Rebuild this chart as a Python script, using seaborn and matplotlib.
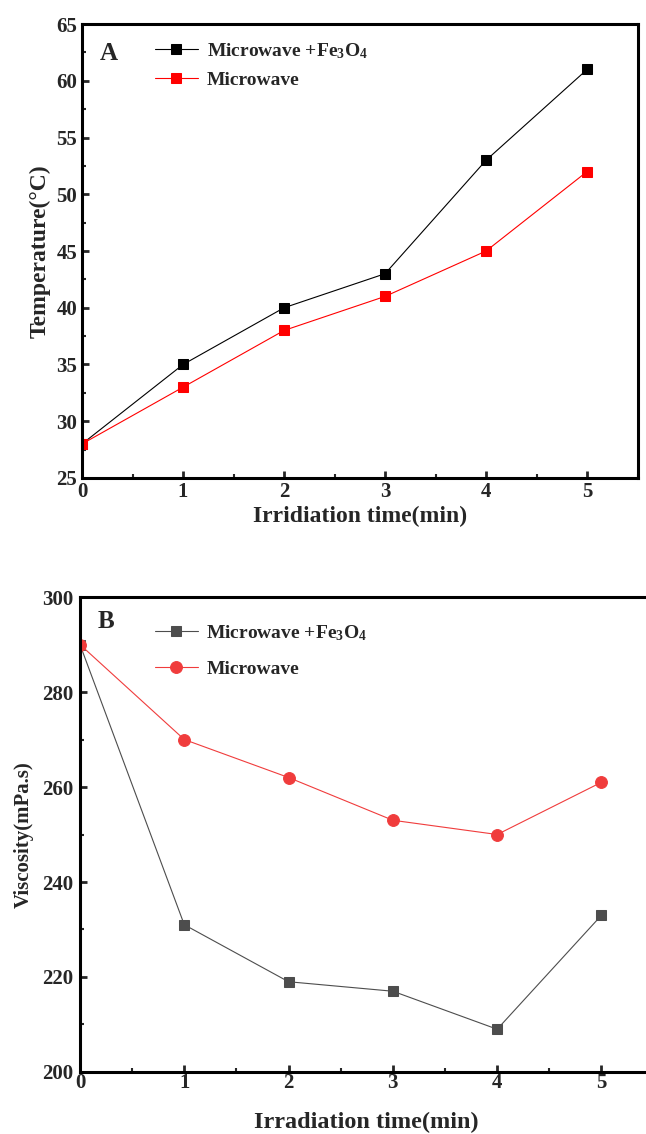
import matplotlib
matplotlib.use("Agg")
import matplotlib.pyplot as plt
import seaborn as sns
from matplotlib.ticker import MultipleLocator

# Irradiation time (min)
time_min = [0, 1, 2, 3, 4, 5]

# Panel A: temperature (°C)
temp_mw_fe3o4 = [28, 35, 40, 43, 53, 61]
temp_mw = [28, 33, 38, 41, 45, 52]

# Panel B: viscosity (mPa.s)
visc_mw_fe3o4 = [290, 231, 219, 217, 209, 233]
visc_mw = [290, 270, 262, 253, 250, 261]

label_fe = "Microwave +Fe$_{3}$O$_{4}$"
label_mw = "Microwave"

sns.set_style("white")
plt.rcParams["font.family"] = ["Liberation Serif"]
plt.rcParams["font.weight"] = "bold"
plt.rcParams["mathtext.fontset"] = "custom"
plt.rcParams["mathtext.rm"] = "Liberation Serif:bold"
plt.rcParams["mathtext.it"] = "Liberation Serif:bold"
plt.rcParams["mathtext.bf"] = "Liberation Serif:bold"
plt.rcParams["mathtext.default"] = "rm"

fig = plt.figure(figsize=(6.46, 11.34), dpi=100)
ax1 = fig.add_axes([0.127, 0.5785, 0.860, 0.4003])
ax2 = fig.add_axes([0.1238, 0.0547, 0.888, 0.4188])


def style_axes(ax, tick_size):
    for s in ax.spines.values():
        s.set_linewidth(2.2)
        s.set_color("black")
    ax.tick_params(which="major", direction="in", length=5, width=2,
                   labelsize=tick_size, pad=3.5, left=True, bottom=True)
    ax.tick_params(which="minor", direction="in", length=3, width=1.5,
                   left=True, bottom=True)
    ax.xaxis.set_major_locator(MultipleLocator(1))
    ax.xaxis.set_minor_locator(MultipleLocator(0.5))
    for lab in ax.get_xticklabels() + ax.get_yticklabels():
        lab.set_fontweight("bold")


# Panel A
sns.lineplot(x=time_min, y=temp_mw_fe3o4, ax=ax1, color="black", marker="s",
             markersize=7, markeredgecolor="black", linewidth=0.8, label=label_fe)
sns.lineplot(x=time_min, y=temp_mw, ax=ax1, color="#ff0000", marker="s",
             markersize=7, markeredgecolor="#ff0000", linewidth=0.8, label=label_mw)
ax1.set_xlim(0, 5.5)
ax1.set_ylim(25, 65)
ax1.yaxis.set_major_locator(MultipleLocator(5))
ax1.yaxis.set_minor_locator(MultipleLocator(2.5))
style_axes(ax1, 15)
ax1.tick_params(axis="x", pad=3)
ax1.set_xlabel("Irridiation time(min)", fontsize=17, fontweight="bold", labelpad=3)
ax1.set_ylabel("Temperature(°C)", fontsize=17, fontweight="bold", labelpad=4)
ax1.text(0.031, 0.92, "A", transform=ax1.transAxes, fontsize=18,
         fontweight="bold", va="baseline")
ax1.legend(loc="upper left", bbox_to_anchor=(0.1, 1.001), frameon=False,
           fontsize=14, handlelength=2.2, handletextpad=0.45, labelspacing=0.55)

# Panel B
sns.lineplot(x=time_min, y=visc_mw_fe3o4, ax=ax2, color="#4d4d4d", marker="s",
             markersize=7, markeredgecolor="#4d4d4d", linewidth=0.8, label=label_fe)
sns.lineplot(x=time_min, y=visc_mw, ax=ax2, color="#f03c3c", marker="o",
             markersize=8.5, markeredgecolor="#f03c3c", linewidth=0.8, label=label_mw)
ax2.set_xlim(0, 5.5)
ax2.set_ylim(200, 300)
ax2.yaxis.set_major_locator(MultipleLocator(20))
ax2.yaxis.set_minor_locator(MultipleLocator(10))
style_axes(ax2, 15)
ax2.tick_params(axis="x", pad=0.5)
ax2.tick_params(axis="y", pad=5)
ax2.set_xlabel("Irradiation time(min)", fontsize=17.5, fontweight="bold", labelpad=14)
ax2.set_ylabel("Viscosity(mPa.s)", fontsize=15, fontweight="bold", labelpad=6)
ax2.text(0.030, 0.935, "B", transform=ax2.transAxes, fontsize=18,
         fontweight="bold", va="baseline")
ax2.legend(loc="upper left", bbox_to_anchor=(0.1, 0.982), frameon=False,
           fontsize=14, handlelength=2.2, handletextpad=0.45, labelspacing=0.9)

fig.savefig("out.png", dpi=100)
